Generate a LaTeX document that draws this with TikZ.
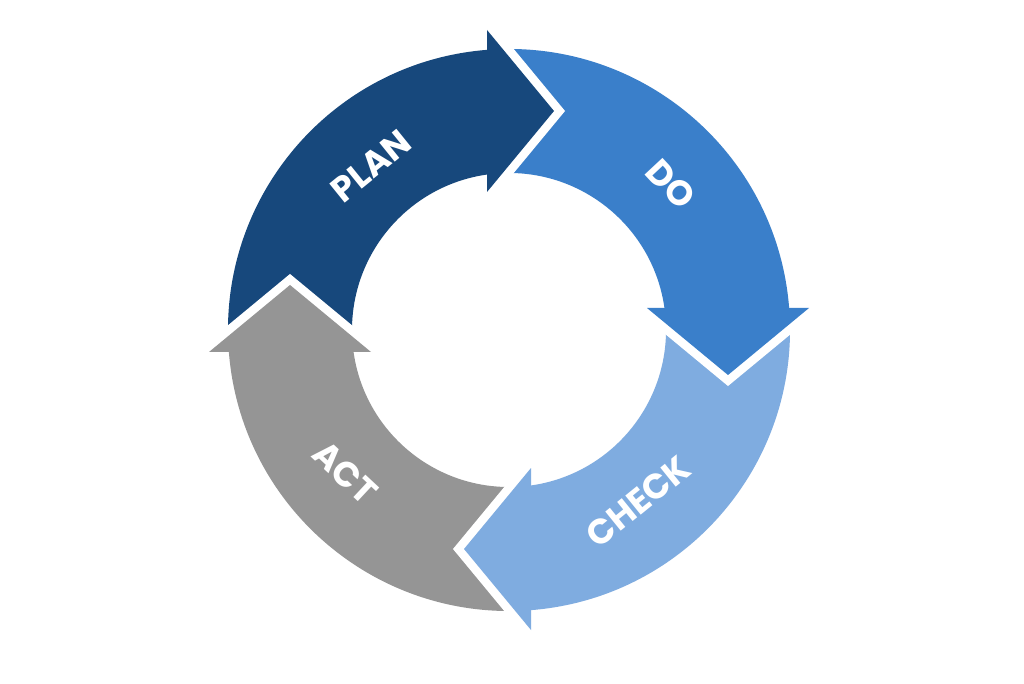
\documentclass[tikz,border=0pt]{standalone}
\usepackage{fontspec}
\newfontfamily\lblfont{Poppins}
\definecolor{planc}{HTML}{17487C}
\definecolor{doc}{HTML}{3A7FCA}
\definecolor{checkc}{HTML}{7FACE0}
\definecolor{actc}{HTML}{959595}
\tikzset{
  lbl/.style={text=white, font=\lblfont\bfseries\fontsize{35}{35}\selectfont, inner sep=0pt},
  gapline/.style={draw=white, line width=17pt, line join=miter, line cap=butt}
}
\newcommand\ringsector[3]{%
  \fill[#3] (#1:281) arc[start angle=#1, end angle=#2, radius=281] -- (#2:157)
    arc[start angle=#2, end angle=#1, radius=157] -- cycle;}
\newcommand\arrowhead[2]{%
  \begin{scope}[rotate=#1]
    \draw[gapline] (-22,138) -- (45,219) -- (-22,300);
    \fill[#2] (-22,138) -- (45,219) -- (-22,300) -- cycle;
  \end{scope}}
\begin{document}
\begin{tikzpicture}[x=1pt,y=1pt]
\fill[white] (0,0) rectangle (1024,683);
\useasboundingbox (0,0) rectangle (1024,683);
\begin{scope}[shift={(509,353)}]
  \ringsector{184}{94}{planc}
  \ringsector{94}{4}{doc}
  \ringsector{4}{-86}{checkc}
  \ringsector{-86}{-176}{actc}
  \arrowhead{0}{planc}
  \arrowhead{-90}{doc}
  \arrowhead{-180}{checkc}
  \arrowhead{90}{actc}
  \node[lbl, rotate=39] (plan) at (130:214) {PLAN};
  \node[lbl, rotate=-47] (do) at (42:218) {DO};
  \node[lbl, rotate=39] (check) at (-53:215) {CHECK};
  \node[lbl, rotate=-43] (act) at (221:217) {ACT};
\end{scope}
\end{tikzpicture}
\end{document}
